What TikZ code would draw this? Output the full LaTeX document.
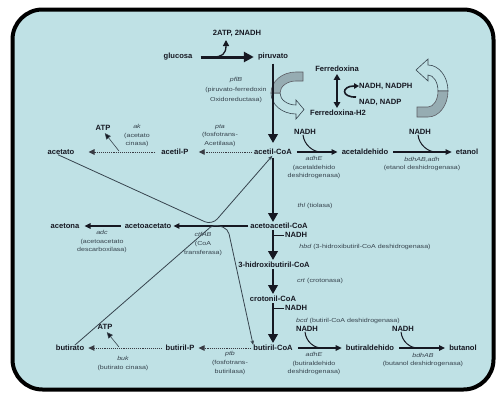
\documentclass[tikz,border=0pt]{standalone}
\usepackage{graphicx}
\usepackage{fontspec}
\setmainfont{Liberation Sans}
\usetikzlibrary{arrows.meta,calc}
\definecolor{bg}{RGB}{191,225,229}
\definecolor{ink}{RGB}{22,24,34}
\definecolor{enzc}{RGB}{55,68,78}
\definecolor{band}{RGB}{150,172,178}
\newcommand\zz[1]{\scalebox{1.22}[1]{#1}}
\begin{document}
\begin{tikzpicture}[x=1pt,y=-1pt,
  lbl/.style={font=\bfseries\fontsize{7.6}{8}\selectfont, text=ink, inner sep=0pt},
  enz/.style={font=\fontsize{5.8}{8.6}\selectfont, text=enzc, inner sep=0pt, align=center},
  big/.style={draw=ink, line width=2.4pt, -{Triangle[length=9pt,width=9.5pt]}},
  rx/.style={draw=ink, line width=1.2pt, -{Triangle[length=6pt,width=5.5pt]}},
  dt/.style={draw=ink!85, line width=0.9pt, densely dotted, -{Triangle[length=6pt,width=5.5pt]}},
  br/.style={draw=ink, line width=1pt},
  atpbr/.style={draw=enzc, line width=0.6pt, -{Triangle[length=6pt,width=5.5pt,fill=ink]}},
  ctf/.style={draw=enzc, line width=0.8pt, -{Stealth[length=4.5pt,width=3.5pt]}},
  hollow/.style={fill=bg, draw=enzc, line width=0.6pt},
  grayband/.style={fill=band, draw=ink!70, line width=0.6pt}
]
\path[use as bounding box] (0,0) rectangle (496,394);
\draw[line width=4pt, fill=bg, rounded corners=30pt] (12.5,9.5) rectangle (493.5,389.5);

% curved band arrows
\filldraw[hollow] (271,93) arc[start angle=180,end angle=90,x radius=25,y radius=21]
  -- (296,119) -- (304,109.5) -- (296,100) -- (296,105)
  arc[start angle=90,end angle=180,x radius=16,y radius=12] -- cycle;
\filldraw[grayband] (303,72) -- (296,72) arc[start angle=-90,end angle=-180,x radius=25,y radius=21]
  -- (280,93) arc[start angle=180,end angle=270,x radius=16,y radius=12] -- (303,81) -- cycle;
\filldraw[hollow] (448,91) arc[start angle=0,end angle=-90,x radius=20,y radius=26]
  -- (428,59) -- (416,70) -- (428,81) -- (428,75)
  arc[start angle=-90,end angle=0,x radius=10,y radius=16] -- cycle;
\filldraw[grayband] (417,117) -- (428,117) arc[start angle=90,end angle=0,x radius=20,y radius=26]
  -- (438,91) arc[start angle=0,end angle=90,x radius=10,y radius=16] -- (417,107) -- cycle;

% main labels
\node[lbl] (glucosa) at (178,57) {glucosa};
\node[lbl] (piruvato) at (273,57) {piruvato};
\node[lbl] (atp0) at (237,33) {2ATP, 2NADH};
\node[lbl] (fdx) at (337,69) {Ferredoxina};
\node[lbl] (fdxh) at (338,113) {Ferredoxina-H2};
\node[lbl,anchor=west] (nadph) at (359,86) {NADH, NADPH};
\node[lbl,anchor=west] (nadp) at (359,102) {NAD, NADP};
\node[lbl] (acoa) at (273,152) {acetil-CoA};
\node[lbl] (acald) at (365,152) {acetaldehido};
\node[lbl] (etoh) at (467,152) {etanol};
\node[lbl] (acp) at (175,152) {acetil-P};
\node[lbl] (acetato) at (61,152) {acetato};
\node[lbl] (atp1) at (103,128) {ATP};
\node[lbl] (aacoa) at (279,226) {acetoacetil-CoA};
\node[lbl] (aac) at (148,226) {acetoacetato};
\node[lbl] (acetona) at (65,226) {acetona};
\node[lbl] (hb) at (274,265) {3-hidroxibutiril-CoA};
\node[lbl] (cr) at (273,299) {crotonil-CoA};
\node[lbl] (bcoa) at (273,348) {butiril-CoA};
\node[lbl] (bald) at (370,348) {butiraldehido};
\node[lbl] (buoh) at (463,348) {butanol};
\node[lbl] (bp) at (180,348) {butiril-P};
\node[lbl] (butirato) at (70,348) {butirato};
\node[lbl] (atp2) at (105,327) {ATP};
\node[lbl] (n1) at (305,132) {NADH};
\node[lbl] (n2) at (420,132) {NADH};
\node[lbl,anchor=west] (n3) at (285,235) {NADH};
\node[lbl,anchor=west] (n4) at (285,308) {NADH};
\node[lbl] (n5) at (307,329) {NADH};
\node[lbl] (n6) at (403,329) {NADH};

% enzyme labels
\node[enz,font=\fontsize{5.8}{10}\selectfont] (e1) at (236,90) {\zz{\itshape pflB}\\\zz{(piruvato-ferredoxin}\\\zz{Oxidoreductasa)}};
\node[enz] (e2) at (220,135.5) {\zz{\itshape pta}\\\zz{(fosfotrans-}\\\zz{Acetilasa)}};
\node[enz] (e3) at (137,135.5) {\zz{\itshape ak}\\\zz{(acetato}\\\zz{cinasa)}};
\node[enz] (e4) at (314,167.5) {\zz{\itshape adhE}\\\zz{(acetaldehido}\\\zz{deshidrogenasa)}};
\node[enz] (e5) at (422,164) {\zz{\itshape bdhAB,adh}\\\zz{(etanol deshidrogenasa)}};
\node[enz] (e6) at (315,206) {\zz{\textit{thl} (tiolasa)}};
\node[enz] (e7) at (102,241.5) {\zz{\itshape adc}\\\zz{(acetoacetato}\\\zz{descarboxilasa)}};
\node[enz] (e8) at (203,244) {\zz{\itshape ctfAB}\\\zz{(CoA}\\\zz{transferasa)}};
\node[enz] (e9) at (365,247) {\zz{\textit{hbd} (3-hidroxibutiril-CoA deshidrogenasa)}};
\node[enz] (e10) at (320,281) {\zz{\textit{crt} (crotonasa)}};
\node[enz] (e11) at (348,321) {\zz{\textit{bcd} (butiril-CoA deshidrogenasa)}};
\node[enz] (e12) at (314,363.5) {\zz{\itshape adhE}\\\zz{(butiraldehido}\\\zz{deshidrogenasa)}};
\node[enz] (e13) at (423,360) {\zz{\itshape bdhAB}\\\zz{(butanol deshidrogenasa)}};
\node[enz] (e14) at (230,363) {\zz{\itshape ptb}\\\zz{(fosfotrans-}\\\zz{butirilasa)}};
\node[enz] (e15) at (123,363.5) {\zz{\itshape buk}\\\zz{(butirato cinasa)}};

% coordinates for free ends
\coordinate (b0) at (213,57);
\coordinate (c0) at (226,40);
\coordinate (b1) at (119,151);
\coordinate (b2) at (119,347);
\coordinate (m1) at (321,152);
\coordinate (m2) at (436,152);
\coordinate (m5) at (322,348);
\coordinate (m6) at (418,348);
\coordinate (vA) at (212,225);
\coordinate (vB1) at (214,224);
\coordinate (vB2) at (228,229);

% glucose -> pyruvate
\draw[draw=ink, line width=3pt, -{Triangle[length=10pt,width=10pt]}, shorten <=8pt, shorten >=4pt] (glucosa) -- (piruvato);
\draw[draw=ink, line width=1.3pt, -{Triangle[length=6pt,width=6pt]}] (b0) .. controls (222,57) and (226,54) .. (c0);

% main vertical pathway
\draw[big, shorten <=3pt, shorten >=6pt] (piruvato.south) -- (piruvato.south |- acoa.north);
\draw[big, shorten <=3pt, shorten >=1pt] (acoa.south) -- (acoa.south |- aacoa.north);
\draw[big, shorten <=1pt, shorten >=2pt] (acoa |- aacoa.south) -- (acoa |- hb.north);
\draw[big, shorten <=1pt, shorten >=2pt] (acoa |- hb.south) -- (acoa |- cr.north);
\draw[big, shorten <=1pt, shorten >=2pt] (acoa |- cr.south) -- (acoa |- bcoa.north);
\draw[br, shorten >=1.5pt] (acoa |- n3) -- (n3.west);
\draw[br, shorten >=1.5pt] (acoa |- n4) -- (n4.west);

% ferredoxin
\draw[draw=ink, line width=1.8pt, {Triangle[length=6pt,width=6.5pt]}-{Triangle[length=6pt,width=6.5pt]}, shorten <=2pt, shorten >=2pt] (fdx.south) -- (fdx.south |- fdxh.north);
\draw[draw=ink, line width=1.6pt, -{Triangle[length=5pt,width=5.5pt]}] ($(nadp.west)+(-3,-5)$) .. controls (341,97.5) and (341,86) .. (nadph.west);

% right branches
\draw[rx, shorten <=5pt, shorten >=4pt] (acoa) -- (acald);
\draw[rx, shorten <=5pt, shorten >=4pt] (acald) -- (etoh);
\draw[br] ([xshift=-2pt]n1.south) .. controls +(1,10) and +(-8,0) .. (m1);
\draw[br] ([xshift=-2pt]n2.south) .. controls +(1,10) and +(-8,0) .. (m2);
\draw[rx, shorten <=5pt, shorten >=4pt] (bcoa) -- (bald);
\draw[rx, shorten <=5pt, shorten >=4pt] (bald) -- (buoh);
\draw[br] ([xshift=-2pt]n5.south) .. controls +(1,10) and +(-8,0) .. (m5);
\draw[br] ([xshift=-2pt]n6.south) .. controls +(1,10) and +(-8,0) .. (m6);

% left branches
\draw[dt, shorten <=2pt, shorten >=10pt] (acoa) -- (acp);
\draw[dt, shorten <=6pt, shorten >=14pt] (acp) -- (acetato);
\draw[atpbr, shorten >=3pt] (b1) -- (atp1.south);
\draw[rx, line width=1.3pt, shorten <=2pt, shorten >=2pt] (aacoa) -- (aac);
\draw[rx, shorten <=4pt, shorten >=5pt] (aac) -- (acetona);
\draw[dt, shorten <=2pt, shorten >=4pt] (bcoa) -- (bp);
\draw[dt, shorten <=4pt, shorten >=4pt] (bp) -- (butirato);
\draw[atpbr, shorten >=3pt] (b2) -- (atp2.south);

% CoA transferase crossing
\draw[ctf, rounded corners=8pt, shorten >=1pt] ([xshift=-3pt]acetato.south) -- (vA) -- (acoa.south);
\draw[ctf, rounded corners=5pt] ([xshift=5pt]butirato.north) -- (vB1) -- (vB2) -- (bcoa.north west);
\end{tikzpicture}
\end{document}
